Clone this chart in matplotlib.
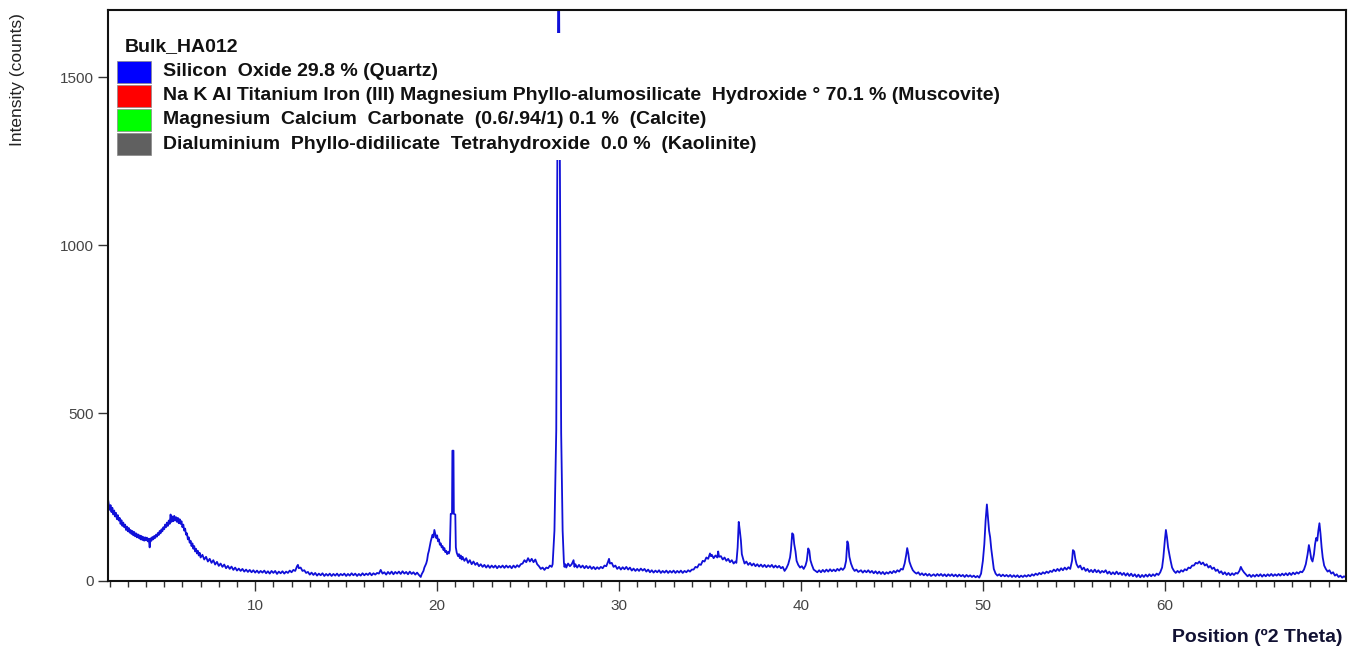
import matplotlib
matplotlib.use("Agg")
import matplotlib.pyplot as plt
from matplotlib.patches import Rectangle
from matplotlib.ticker import MultipleLocator

# ---------------------------------------------------------------- data
# (2theta, counts), split into angular ranges
scan_low = [
    (1.92, 240), (2.0, 212), (2.05, 226), (2.1, 205), (2.15, 218), (2.2, 198),
    (2.25, 210), (2.3, 192), (2.35, 203), (2.4, 184), (2.45, 196), (2.5, 180),
    (2.55, 188), (2.6, 170), (2.65, 181), (2.7, 164), (2.75, 174), (2.8, 160),
    (2.85, 168), (2.9, 152), (2.95, 162), (3.0, 148), (3.05, 158), (3.1, 144),
    (3.15, 152), (3.2, 140), (3.25, 149), (3.3, 136), (3.35, 146), (3.4, 133),
    (3.45, 142), (3.5, 130), (3.55, 139), (3.6, 128), (3.65, 136), (3.7, 124),
    (3.75, 134), (3.8, 122), (3.85, 131), (3.9, 120), (3.95, 130), (4.0, 121),
    (4.05, 129), (4.1, 118), (4.15, 126), (4.2, 100), (4.25, 127), (4.3, 120),
    (4.35, 131), (4.4, 124), (4.45, 134), (4.5, 128), (4.55, 138), (4.6, 132),
    (4.65, 143), (4.7, 137), (4.75, 149), (4.8, 142), (4.85, 154), (4.9, 148),
    (4.95, 160), (5.0, 154), (5.05, 168), (5.1, 160), (5.15, 174), (5.2, 164),
    (5.25, 180), (5.3, 170), (5.35, 198), (5.4, 176), (5.45, 192), (5.5, 178),
    (5.55, 194), (5.6, 180), (5.65, 190), (5.7, 176), (5.75, 188), (5.8, 172),
    (5.85, 184), (5.9, 170), (5.95, 178), (6.0, 160), (6.05, 168), (6.1, 150),
    (6.15, 156), (6.2, 138), (6.25, 142), (6.3, 124), (6.35, 130), (6.4, 114),
    (6.45, 120), (6.5, 104), (6.55, 112), (6.6, 96), (6.65, 104), (6.7, 88),
    (6.75, 96), (6.8, 82), (6.85, 90), (6.9, 76), (6.95, 84), (7.0, 70),
    (7.1, 78), (7.2, 64), (7.3, 72), (7.4, 58), (7.5, 66), (7.6, 54), (7.7, 62),
    (7.8, 49), (7.9, 57), (8.0, 45), (8.1, 52), (8.2, 42), (8.3, 49), (8.4, 38),
    (8.5, 45), (8.6, 36), (8.7, 43), (8.8, 33), (8.9, 40), (9.0, 31), (9.1, 37),
    (9.2, 30), (9.3, 36), (9.4, 28), (9.5, 34), (9.6, 27), (9.7, 33), (9.8, 26),
    (9.9, 32), (10.0, 25), (10.1, 31), (10.2, 24), (10.3, 30), (10.4, 25),
    (10.5, 31), (10.6, 23), (10.7, 29), (10.8, 22), (10.9, 30), (11.0, 24),
    (11.1, 30), (11.2, 21), (11.3, 28), (11.4, 23), (11.5, 29), (11.6, 22),
    (11.7, 28), (11.8, 24), (11.9, 31), (12.0, 26), (12.1, 33), (12.2, 30),
    (12.3, 44), (12.35, 48), (12.4, 38), (12.5, 40), (12.6, 30), (12.7, 32),
    (12.8, 24), (12.9, 27), (13.0, 19), (13.1, 25), (13.2, 18), (13.3, 24),
    (13.4, 16), (13.5, 22), (13.6, 17), (13.7, 23), (13.8, 15), (13.9, 21),
    (14.0, 16), (14.1, 22), (14.2, 15), (14.3, 21), (14.4, 16), (14.5, 22),
    (14.6, 15), (14.7, 21), (14.8, 17), (14.9, 22), (15.0, 15), (15.1, 21),
    (15.2, 16), (15.3, 23), (15.4, 17), (15.5, 22), (15.6, 15), (15.7, 21),
    (15.8, 16), (15.9, 23), (16.0, 17), (16.1, 22), (16.2, 18), (16.3, 24),
    (16.4, 17), (16.5, 23), (16.6, 19), (16.7, 24), (16.8, 22), (16.9, 33),
    (17.0, 22), (17.1, 26), (17.2, 19), (17.3, 27), (17.4, 21), (17.5, 28),
    (17.6, 20), (17.7, 27), (17.8, 22), (17.9, 28), (18.0, 21), (18.1, 29),
    (18.2, 22), (18.3, 27), (18.4, 20), (18.5, 28), (18.6, 21), (18.7, 26),
    (18.8, 19), (18.9, 25), (19.0, 18), (19.1, 12),
]
scan_mid = [
    (19.15, 20), (19.25, 30), (19.3, 40), (19.4, 52), (19.45, 62), (19.5, 80),
    (19.55, 90), (19.6, 104), (19.65, 118), (19.7, 128), (19.75, 138),
    (19.8, 130), (19.85, 152), (19.9, 140), (19.95, 128), (20.0, 136),
    (20.05, 118), (20.1, 124), (20.15, 108), (20.2, 112), (20.25, 100),
    (20.3, 104), (20.35, 92), (20.4, 98), (20.45, 86), (20.5, 90), (20.55, 80),
    (20.6, 86), (20.65, 82), (20.7, 92), (20.75, 200), (20.82, 200),
    (20.84, 388), (20.9, 388), (20.92, 200), (21.0, 198), (21.03, 100),
    (21.08, 84), (21.15, 74), (21.2, 80), (21.25, 68), (21.3, 76), (21.35, 64),
    (21.4, 72), (21.5, 60), (21.6, 68), (21.7, 54), (21.8, 62), (21.9, 50),
    (22.0, 58), (22.1, 48), (22.2, 54), (22.3, 44), (22.4, 50), (22.5, 42),
    (22.6, 48), (22.7, 40), (22.8, 47), (22.9, 39), (23.0, 46), (23.1, 40),
    (23.2, 46), (23.3, 38), (23.4, 45), (23.5, 40), (23.6, 46), (23.7, 39),
    (23.8, 46), (23.9, 40), (24.0, 45), (24.1, 38), (24.2, 46), (24.3, 40),
    (24.4, 47), (24.5, 42), (24.6, 50), (24.7, 52), (24.8, 62), (24.9, 56),
    (25.0, 68), (25.1, 58), (25.2, 66), (25.3, 56), (25.4, 64), (25.5, 50),
    (25.6, 44), (25.7, 36), (25.8, 40), (25.9, 33), (26.0, 40), (26.1, 38),
    (26.2, 46), (26.3, 42), (26.35, 50), (26.45, 150), (26.55, 450),
    (26.6, 1150), (26.66, 1800), (26.7, 1800), (26.76, 1150), (26.82, 440),
    (26.9, 150), (26.97, 55), (27.0, 42), (27.05, 50), (27.1, 40), (27.2, 52),
    (27.3, 44), (27.4, 50), (27.5, 62), (27.55, 42), (27.6, 50), (27.7, 40),
    (27.8, 48), (27.9, 40), (28.0, 46), (28.1, 38), (28.2, 45), (28.3, 38),
    (28.4, 44), (28.5, 36), (28.6, 42), (28.7, 35), (28.8, 41), (28.9, 36),
    (29.0, 42), (29.1, 38), (29.2, 46), (29.3, 44), (29.4, 58), (29.45, 66),
    (29.5, 52), (29.6, 54), (29.7, 42), (29.8, 46), (29.9, 36), (30.0, 42),
    (30.1, 34), (30.2, 41), (30.3, 35), (30.4, 42), (30.5, 34), (30.6, 40),
    (30.7, 31), (30.8, 37), (30.9, 30), (31.0, 36), (31.1, 30), (31.2, 37),
    (31.3, 31), (31.4, 36), (31.5, 28), (31.6, 34), (31.7, 26), (31.8, 32),
    (31.9, 25), (32.0, 31), (32.1, 26), (32.2, 32), (32.3, 24), (32.4, 30),
    (32.5, 25), (32.6, 31), (32.7, 24), (32.8, 30), (32.9, 25), (33.0, 31),
    (33.1, 24), (33.2, 30), (33.3, 25), (33.4, 31), (33.5, 24), (33.6, 30),
    (33.7, 26), (33.8, 32), (33.9, 28), (34.0, 34), (34.1, 34), (34.2, 42),
    (34.3, 40), (34.4, 50), (34.5, 48), (34.6, 60), (34.7, 58), (34.8, 70),
    (34.9, 66), (35.0, 82), (35.05, 74), (35.1, 78), (35.2, 68), (35.3, 76),
    (35.4, 70), (35.45, 88), (35.5, 72), (35.6, 74), (35.7, 64), (35.8, 70),
    (35.9, 60), (36.0, 66), (36.1, 56), (36.2, 62), (36.3, 52), (36.4, 58),
    (36.45, 54), (36.52, 100), (36.58, 176), (36.64, 150), (36.7, 120),
    (36.75, 80), (36.82, 66), (36.9, 52), (37.0, 58), (37.1, 48), (37.2, 54),
    (37.3, 46), (37.4, 52), (37.5, 44), (37.6, 50), (37.7, 43), (37.8, 49),
    (37.9, 42), (38.0, 48), (38.1, 41), (38.2, 47), (38.3, 42), (38.4, 48),
    (38.5, 40), (38.6, 46), (38.7, 40), (38.8, 45), (38.9, 38), (39.0, 42),
    (39.1, 30), (39.2, 38), (39.3, 50), (39.4, 70), (39.45, 92), (39.52, 142),
    (39.58, 138), (39.63, 110), (39.7, 88), (39.76, 60), (39.85, 48),
    (39.95, 40), (40.05, 44), (40.15, 36), (40.25, 46), (40.32, 60),
    (40.4, 97), (40.46, 90), (40.52, 62), (40.6, 48), (40.7, 34), (40.8, 30),
    (40.9, 26), (41.0, 32), (41.1, 26), (41.2, 33), (41.3, 27), (41.4, 34),
    (41.5, 28), (41.6, 35), (41.7, 29), (41.8, 34), (41.9, 29), (42.0, 36),
    (42.1, 31), (42.2, 38), (42.3, 33), (42.4, 40), (42.48, 60), (42.55, 118),
    (42.6, 110), (42.66, 72), (42.75, 52), (42.85, 38), (42.95, 30),
    (43.05, 34), (43.15, 27), (43.3, 32), (43.4, 25), (43.5, 31), (43.6, 26),
    (43.7, 32), (43.8, 25), (43.9, 30), (44.0, 23), (44.1, 29), (44.2, 22),
    (44.3, 28), (44.4, 21), (44.5, 27), (44.6, 20), (44.7, 26), (44.8, 22),
    (44.9, 28), (45.0, 23), (45.1, 30), (45.2, 25), (45.3, 32), (45.4, 28),
    (45.5, 36), (45.6, 34), (45.7, 52), (45.78, 76), (45.84, 98), (45.9, 82),
    (45.96, 58), (46.05, 44), (46.15, 32), (46.25, 26),
]
scan_high = [
    (46.35, 22), (46.45, 26), (46.55, 18), (46.65, 23), (46.75, 17),
    (46.85, 22), (46.95, 16), (47.05, 21), (47.15, 15), (47.3, 20), (47.4, 15),
    (47.5, 21), (47.6, 16), (47.7, 21), (47.8, 15), (47.9, 20), (48.0, 14),
    (48.1, 20), (48.2, 15), (48.3, 20), (48.4, 14), (48.5, 19), (48.6, 13),
    (48.7, 19), (48.8, 14), (48.9, 18), (49.0, 12), (49.1, 18), (49.2, 13),
    (49.3, 17), (49.4, 12), (49.5, 16), (49.6, 11), (49.7, 15), (49.8, 10),
    (49.9, 22), (50.0, 60), (50.08, 110), (50.15, 180), (50.22, 228),
    (50.28, 190), (50.34, 150), (50.4, 130), (50.46, 96), (50.52, 70),
    (50.6, 36), (50.7, 22), (50.8, 16), (50.9, 20), (51.0, 14), (51.1, 19),
    (51.2, 14), (51.3, 18), (51.4, 13), (51.5, 18), (51.6, 12), (51.7, 17),
    (51.8, 12), (51.9, 17), (52.0, 11), (52.1, 16), (52.2, 12), (52.3, 17),
    (52.4, 13), (52.5, 18), (52.6, 14), (52.7, 20), (52.8, 16), (52.9, 22),
    (53.0, 18), (53.1, 24), (53.2, 20), (53.3, 26), (53.4, 22), (53.5, 28),
    (53.6, 24), (53.7, 30), (53.8, 27), (53.9, 34), (54.0, 29), (54.1, 36),
    (54.2, 30), (54.3, 38), (54.4, 32), (54.5, 40), (54.6, 34), (54.7, 41),
    (54.8, 36), (54.9, 60), (54.95, 92), (55.02, 88), (55.08, 66),
    (55.15, 50), (55.25, 40), (55.35, 46), (55.45, 34), (55.55, 40),
    (55.65, 30), (55.75, 36), (55.85, 27), (55.95, 33), (56.05, 26),
    (56.15, 34), (56.25, 26), (56.35, 32), (56.45, 24), (56.55, 30),
    (56.65, 26), (56.75, 32), (56.85, 22), (56.95, 28), (57.05, 20),
    (57.15, 26), (57.25, 20), (57.35, 28), (57.45, 20), (57.55, 25),
    (57.65, 18), (57.75, 24), (57.85, 16), (57.95, 23), (58.05, 15),
    (58.15, 22), (58.25, 14), (58.35, 20), (58.45, 12), (58.55, 19),
    (58.65, 11), (58.75, 18), (58.85, 12), (58.95, 19), (59.05, 13),
    (59.15, 20), (59.25, 14), (59.35, 20), (59.45, 15), (59.55, 22),
    (59.65, 18), (59.75, 26), (59.85, 40), (59.92, 70), (60.0, 120),
    (60.06, 152), (60.12, 130), (60.18, 100), (60.25, 80), (60.32, 60),
    (60.4, 40), (60.5, 30), (60.6, 24), (60.7, 30), (60.8, 25), (60.9, 32),
    (61.0, 28), (61.1, 35), (61.2, 32), (61.3, 40), (61.4, 38), (61.5, 46),
    (61.6, 46), (61.7, 54), (61.8, 52), (61.9, 58), (62.0, 50), (62.1, 55),
    (62.2, 46), (62.3, 50), (62.4, 40), (62.5, 45), (62.6, 36), (62.7, 40),
    (62.8, 30), (62.9, 34), (63.0, 24), (63.1, 29), (63.2, 20), (63.3, 26),
    (63.4, 18), (63.5, 24), (63.6, 17), (63.7, 23), (63.8, 18), (63.9, 24),
    (64.0, 22), (64.1, 30), (64.18, 42), (64.25, 34), (64.35, 26),
    (64.45, 20), (64.55, 14), (64.65, 19), (64.75, 12), (64.85, 18),
    (64.95, 13), (65.05, 19), (65.15, 14), (65.25, 20), (65.35, 13),
    (65.45, 19), (65.55, 14), (65.65, 20), (65.75, 15), (65.85, 21),
    (65.95, 15), (66.05, 20), (66.15, 16), (66.25, 21), (66.35, 16),
    (66.45, 22), (66.55, 17), (66.65, 23), (66.75, 17), (66.85, 24),
    (66.95, 18), (67.05, 25), (67.15, 20), (67.25, 26), (67.35, 22),
    (67.45, 28), (67.55, 26), (67.65, 34), (67.75, 50), (67.85, 80),
    (67.92, 107), (67.98, 90), (68.05, 66), (68.12, 58), (68.2, 80),
    (68.26, 110), (68.32, 128), (68.38, 120), (68.44, 150), (68.5, 172),
    (68.56, 140), (68.62, 100), (68.68, 70), (68.76, 46), (68.85, 36),
    (68.95, 28), (69.05, 32), (69.15, 22), (69.25, 26), (69.35, 16),
    (69.45, 20), (69.55, 12), (69.65, 16), (69.75, 10), (69.85, 14),
    (69.95, 11),
]

sample_name = "Bulk_HA012"
phase_labels = [
    "Silicon  Oxide 29.8 % (Quartz)",
    "Na K Al Titanium Iron (III) Magnesium Phyllo-alumosilicate  Hydroxide \u00b0 70.1 % (Muscovite)",
    "Magnesium  Calcium  Carbonate  (0.6/.94/1) 0.1 %  (Calcite)",
    "Dialuminium  Phyllo-didilicate  Tetrahydroxide  0.0 %  (Kaolinite)",
]
phase_colors = ["#0000ff", "#ff0000", "#00ff00", "#606060"]

scan = scan_low + scan_mid + scan_high
two_theta = [p[0] for p in scan]
counts = [p[1] for p in scan]

# ---------------------------------------------------------------- style
plt.rcParams["font.family"] = ["Liberation Sans", "DejaVu Sans"]

W, H = 1361, 652
fig = plt.figure(figsize=(W / 100, H / 100), dpi=100)


def fx(px):
    return px / W


def fy(py):
    return 1 - py / H


ax = fig.add_axes([fx(108), fy(581), fx(1346) - fx(108), fy(10) - fy(581)])
ax.plot(two_theta, counts, color="#1010d8", lw=1.3, zorder=2)

ax.set_xlim(1.91, 69.96)
ax.set_ylim(0, 1700)
ax.xaxis.set_major_locator(MultipleLocator(10))
ax.xaxis.set_minor_locator(MultipleLocator(1))
ax.yaxis.set_major_locator(MultipleLocator(500))
ax.tick_params(axis="both", which="major", length=7, width=1.0,
               labelsize=11, labelcolor="#444444", color="#333333")
ax.tick_params(axis="x", which="minor", length=4, width=1.0, color="#333333")
ax.tick_params(axis="x", pad=6)
for s in ax.spines.values():
    s.set_linewidth(1.5)
    s.set_color("#111111")

fig.text(fx(18), fy(80), "Intensity (counts)", rotation=90, ha="center",
         va="center", fontsize=12.5, color="#222222")
fig.text(fx(1343), fy(637), "Position (\u00ba2 Theta)", ha="right",
         va="center", fontsize=14, fontweight="bold", color="#111133")

# ---------------------------------------------------------------- legend
fig.add_artist(Rectangle((fx(112), fy(160)), fx(1035) - fx(112),
                         fy(33) - fy(160), transform=fig.transFigure,
                         facecolor="white", edgecolor="none", zorder=3))
fig.text(fx(125), fy(47), sample_name, ha="left", va="center",
         fontsize=14, fontweight="bold", color="#111111", zorder=4)
for i, (lab, col) in enumerate(zip(phase_labels, phase_colors)):
    yc = 72 + 24 * i
    fig.add_artist(Rectangle((fx(117), fy(yc + 11)), fx(151) - fx(117),
                             fy(yc - 11) - fy(yc + 11),
                             transform=fig.transFigure, facecolor=col,
                             edgecolor="#888888", lw=0.5, zorder=4))
    fig.text(fx(163), fy(yc), lab, ha="left", va="center", fontsize=14,
             fontweight="bold", color="#111111", zorder=4)

fig.savefig("out.png", dpi=100)
